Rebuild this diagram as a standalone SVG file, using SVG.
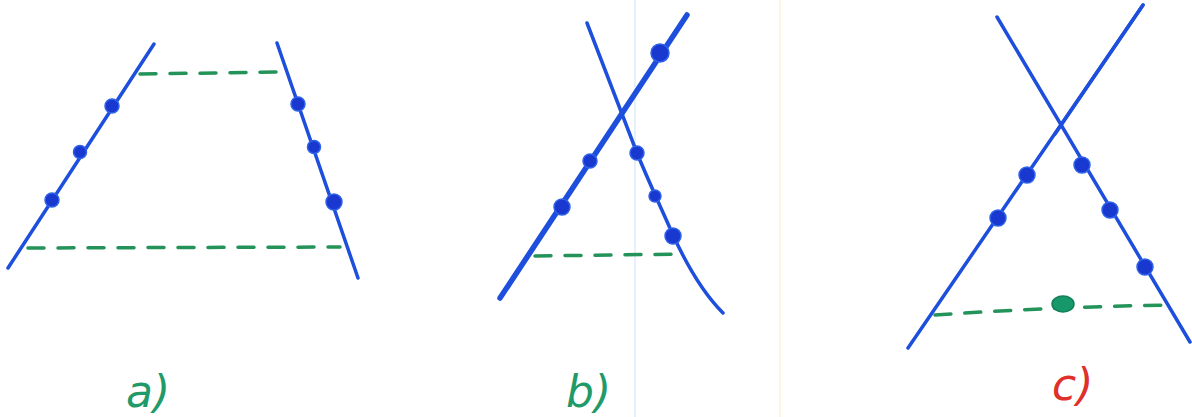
<svg xmlns="http://www.w3.org/2000/svg" width="1192" height="417" viewBox="0 0 1192 417">
<style>
.ln{fill:none;stroke:#1d4fdc;stroke-width:3.5;stroke-linecap:round;stroke-linejoin:round}
.thk{stroke-width:5.5}
.dot{fill:#1838d0;stroke:#2f62e8;stroke-width:1.5}
.dash{fill:none;stroke:#23935a;stroke-width:3.5;stroke-dasharray:16 14;stroke-linecap:round}
.lbl{font-family:"DejaVu Sans","Liberation Sans",sans-serif;font-size:44px;font-style:italic}
</style>
<rect width="1192" height="417" fill="#ffffff"/>
<line x1="635" y1="0" x2="635" y2="417" stroke="#e6f2fb" stroke-width="2"/>
<line x1="780" y1="0" x2="780" y2="417" stroke="#fbf7e0" stroke-width="2"/>
<g id="panel-a">
<path class="ln" d="M154,44 L8,268"/>
<path class="ln" d="M277,43 L358,278"/>
<path class="dash" d="M140,74 L283,72"/>
<path class="dash" d="M28,248 L340,247"/>
<circle class="dot" cx="112" cy="106" r="7"/>
<circle class="dot" cx="80" cy="152" r="6.5"/>
<circle class="dot" cx="52" cy="200" r="7"/>
<circle class="dot" cx="298" cy="104" r="7"/>
<circle class="dot" cx="314" cy="147" r="6.5"/>
<circle class="dot" cx="334" cy="202" r="8"/>
<text class="lbl" x="126" y="407" fill="#1f9a68">a)</text>
</g>
<g id="panel-b">
<path class="ln thk" d="M687,15 L500,298"/>
<path class="ln" d="M587,23 L637,153 C648,180 662,210 673,235 C690,272 705,295 723,313"/>
<path class="dash" d="M535,256 L683,254"/>
<circle class="dot" cx="660" cy="53" r="9"/>
<circle class="dot" cx="590" cy="161" r="7"/>
<circle class="dot" cx="562" cy="207" r="8"/>
<circle class="dot" cx="637" cy="153" r="7"/>
<circle class="dot" cx="655" cy="196" r="6"/>
<circle class="dot" cx="673" cy="236" r="8"/>
<text class="lbl" x="566" y="407" fill="#1f9a68">b)</text>
</g>
<g id="panel-c">
<path class="ln" d="M1143,5 L908,348"/>
<path class="ln" d="M1143,5 L1055,134" stroke-width="7"/>
<path class="ln" d="M997,17 L1190,342"/>
<path class="dash" d="M935,315 Q1050,307 1168,305"/>
<ellipse cx="1063" cy="304" rx="11" ry="8" fill="#17986a" stroke="#13805a" stroke-width="1.5"/>
<circle class="dot" cx="1027" cy="175" r="8"/>
<circle class="dot" cx="998" cy="218" r="8"/>
<circle class="dot" cx="1082" cy="165" r="8"/>
<circle class="dot" cx="1110" cy="210" r="8"/>
<circle class="dot" cx="1145" cy="267" r="8"/>
<text class="lbl" x="1052" y="400" fill="#e0302c">c)</text>
</g>
</svg>
